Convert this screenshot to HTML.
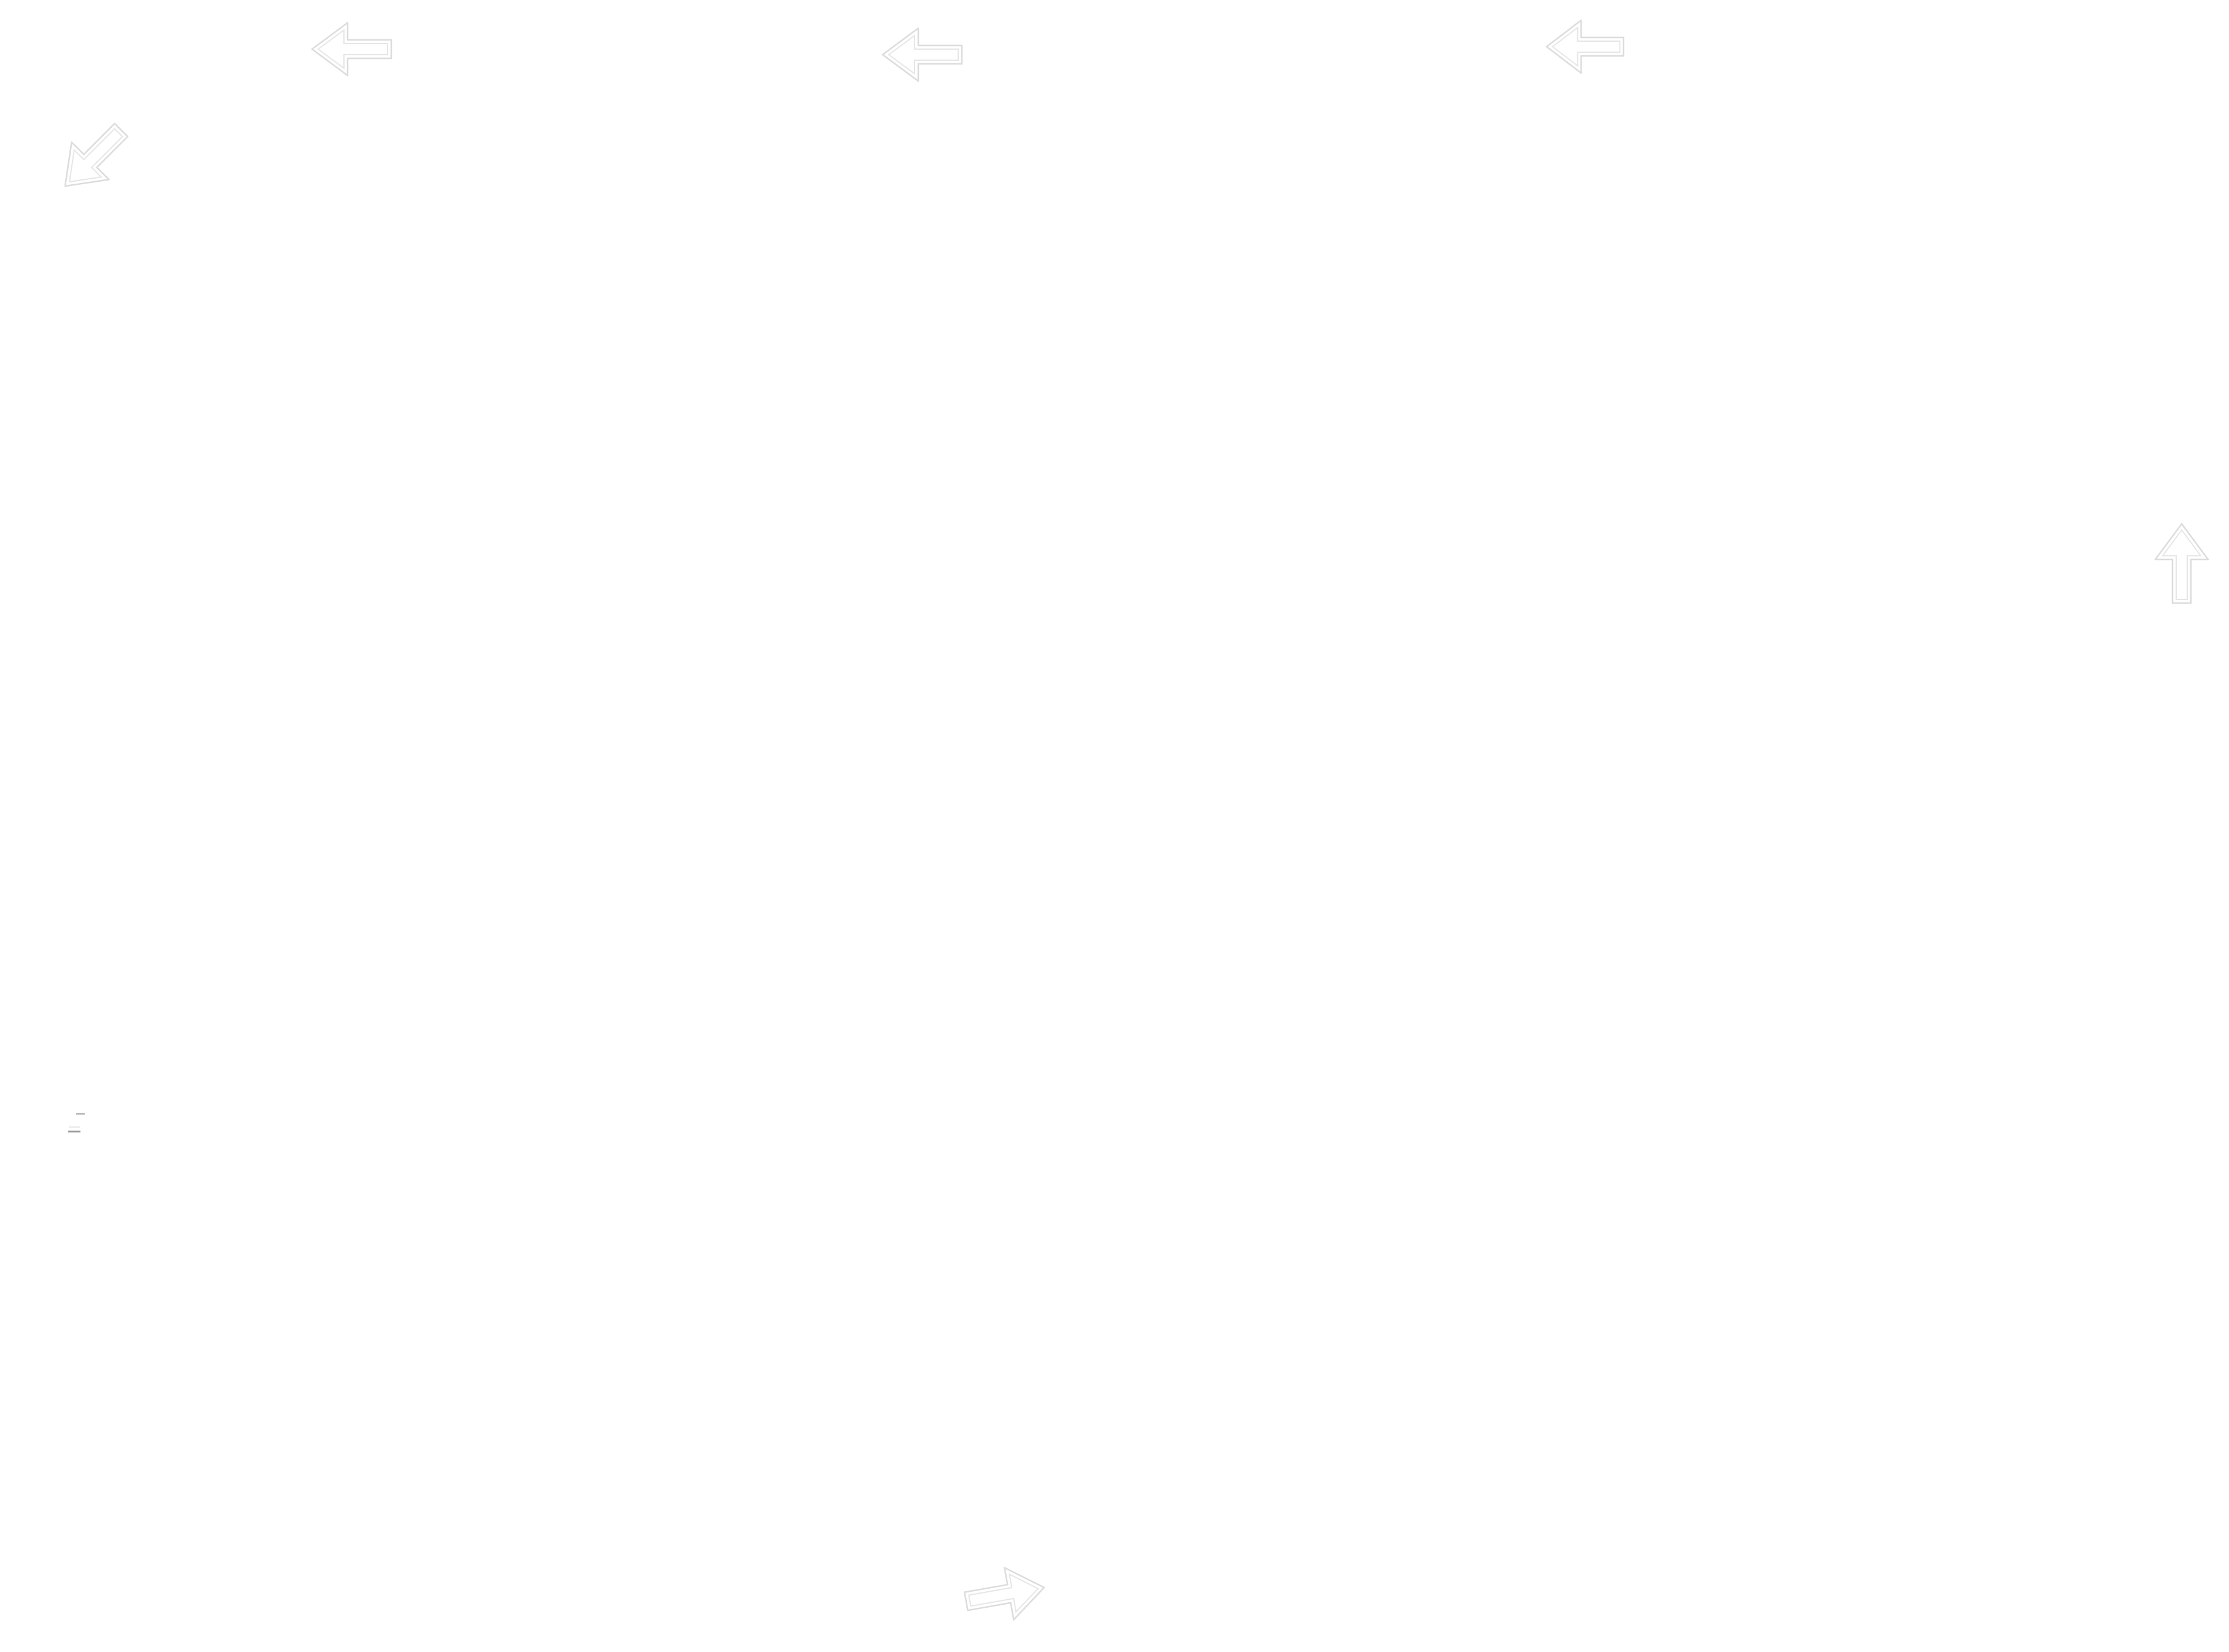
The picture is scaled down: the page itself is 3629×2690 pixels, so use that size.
<!DOCTYPE html>
<html><head><meta charset="utf-8"><style>
html,body{margin:0;padding:0;background:#fff;width:3629px;height:2690px;overflow:hidden}
svg{display:block}
</style></head><body>
<svg width="3629" height="2690" viewBox="0 0 3629 2690" xmlns="http://www.w3.org/2000/svg">
<defs>
<g id="arr">
<path d="M0,0 L58,-43 L58,-15 L129,-15 L129,15 L58,15 L58,43 Z" fill="#fff" stroke="#dcdcdc" stroke-width="2.5" stroke-linejoin="round"/>
<path d="M10,0 L52,-31 L52,-9 L123,-9 L123,9 L52,9 L52,31 Z" fill="none" stroke="#e6e6e6" stroke-width="2"/>
</g>
</defs>
<rect width="3629" height="2690" fill="#fff"/>
<use href="#arr" transform="translate(508,80)"/>
<use href="#arr" transform="translate(1437,89)"/>
<use href="#arr" transform="translate(2518,76) scale(0.97,1)"/>
<use href="#arr" transform="translate(106,303) rotate(-45)"/>
<use href="#arr" transform="translate(3552,853) rotate(90)"/>
<use href="#arr" transform="translate(1700,2585) rotate(170)"/>
<rect x="124" y="1812" width="14" height="3" fill="#bbb"/>
<rect x="112" y="1834" width="18" height="3" fill="#eee"/>
<rect x="111" y="1841" width="20" height="3" fill="#999"/>
</svg>
</body></html>
